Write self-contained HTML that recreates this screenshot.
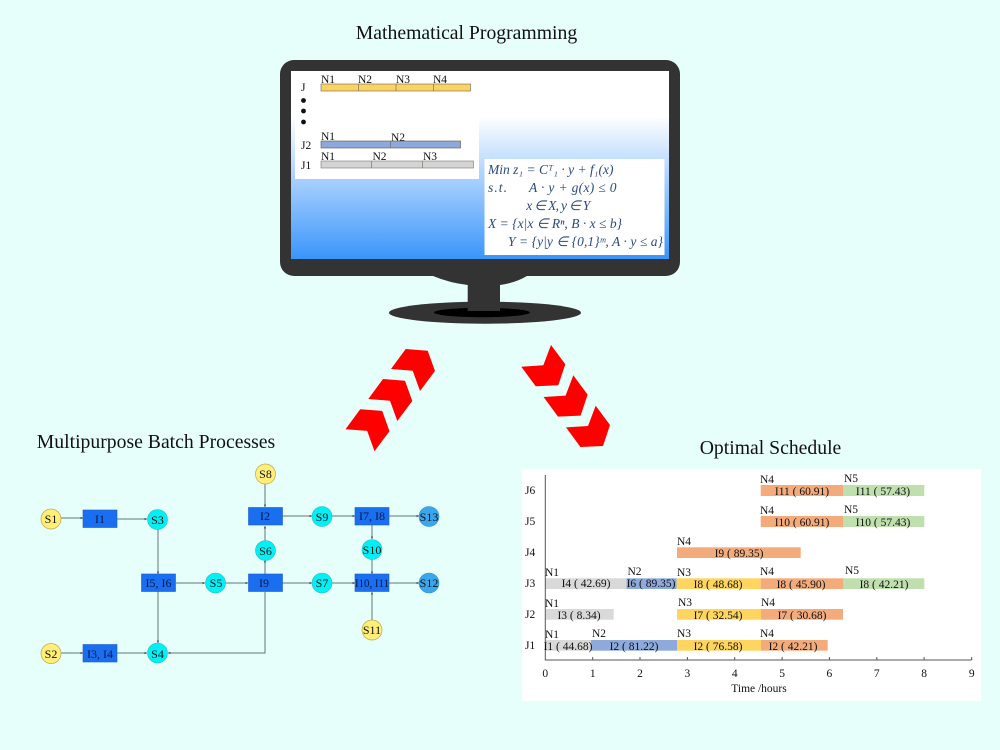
<!DOCTYPE html>
<html><head><meta charset="utf-8"><style>
html,body{margin:0;padding:0;background:#e6fffa}
svg{display:block}
text{font-family:"Liberation Serif",serif;fill:#111}
.a{text-anchor:middle}
.m{font-style:italic;font-size:13.5px;fill:#2a4a80}
.n{font-size:12px;text-anchor:middle;fill:#0a1a4a}
.s{font-size:12px;text-anchor:middle;fill:#111}
.l{stroke:#66767c;stroke-width:1;fill:none}
.r{fill:#1a6ef0;stroke:#1a5ac8;stroke-width:.6}
.y{fill:#ffee77;stroke:#b9a84a;stroke-width:.7}
.c{fill:#00f0f5;stroke:#30b8c0;stroke-width:.6}
.d{fill:#3aa6ee;stroke:#3090d0;stroke-width:.6}
</style></head><body>
<svg width="1000" height="750" viewBox="0 0 1000 750" xmlns="http://www.w3.org/2000/svg">
<defs>
<linearGradient id="g" x1="0" y1="0" x2="0" y2="1"><stop offset="0" stop-color="#fff"/><stop offset=".24" stop-color="#fff"/><stop offset="1" stop-color="#3a95fb"/></linearGradient>
<polygon id="cl" points="405.7,349 427.7,350.7 435,371 420,391 412.7,370.7 391,369" fill="#fe0000"/>
<polygon id="cr" points="551,345 565.3,364.3 558.3,385.3 535.7,386.3 521.3,366.7 543.3,365.3" fill="#fe0000"/>
<marker id="ar" markerWidth="3" markerHeight="3" refX="2.4" refY="1.2" orient="auto"><path d="M0,0L2.400,1.200L0,2.400z" fill="#445"/></marker>
</defs>
<rect width="1000" height="750" fill="#e6fffa"/>
<text x="466.500" y="39" class="a" font-size="19.7">Mathematical Programming</text>
<text x="156" y="448" class="a" font-size="19.7">Multipurpose Batch Processes</text>
<text x="770.500" y="454" class="a" font-size="19.7">Optimal Schedule</text>

<!-- monitor -->
<ellipse cx="485" cy="312.700" rx="96" ry="11" fill="#333"/>
<ellipse cx="482" cy="312.500" rx="48" ry="4.700" fill="#000"/>
<path d="M433,276 Q450,283 467.700,285 L467.700,311 L500,311 L500,285 Q515,283 527,276z" fill="#333"/>
<rect x="280" y="60" width="400" height="216" rx="14" fill="#333"/>
<rect x="291" y="71" width="378" height="188" fill="url(#g)"/>
<rect x="295" y="72" width="184" height="107" fill="#fff"/>
<rect x="484.500" y="159" width="180" height="96" fill="#fff"/>
<text x="301" y="91" font-size="11.500">J</text>
<circle cx="303.500" cy="100.500" r="2.400" fill="#111"/><circle cx="303.500" cy="111" r="2.400" fill="#111"/><circle cx="303.500" cy="122" r="2.400" fill="#111"/>
<text x="301" y="149" font-size="11.500">J2</text>
<text x="301" y="169" font-size="11.500">J1</text>
<g font-size="11.500">
<text x="321" y="83">N1</text><text x="358" y="83">N2</text><text x="396" y="83">N3</text><text x="433" y="83">N4</text>
<text x="321" y="140">N1</text><text x="391" y="141">N2</text>
<text x="321" y="160">N1</text><text x="372.500" y="160">N2</text><text x="423" y="160">N3</text>
</g>
<g stroke="#6a6a50" stroke-width=".6">
<rect x="321" y="84" width="149.500" height="7" fill="#fdd264"/><path d="M358.500,84v7M396,84v7M433.500,84v7"/>
<rect x="321" y="141" width="139.500" height="7" fill="#8da9dc" stroke="#555"/><path d="M390.500,141v7"/>
<rect x="321" y="161" width="152.500" height="7" fill="#d4d4d4" stroke="#777"/><path d="M371.500,161v7M422.500,161v7"/>
</g>
<text class="m" x="488" y="174" textLength="125.500">Min z₁ = Cᵀ₁ · y + f₁(x)</text>
<text class="m" x="488" y="192" textLength="19">s.t.</text>
<text class="m" x="529" y="192" textLength="87.500">A · y + g(x) ≤ 0</text>
<text class="m" x="526.300" y="210" textLength="64">x ∈ X, y ∈ Y</text>
<text class="m" x="488" y="228" textLength="134">X = {x|x ∈ Rⁿ, B · x ≤ b}</text>
<text class="m" x="508" y="246" textLength="155">Y = {y|y ∈ {0,1}ᵐ, A · y ≤ a}</text>

<!-- chevrons -->
<use href="#cl"/><use href="#cl" x="-22.700" y="30"/><use href="#cl" x="-45.500" y="60.200"/>
<use href="#cr"/><use href="#cr" x="22.300" y="30.300"/><use href="#cr" x="44.700" y="60.700"/>

<!-- network -->
<g class="l">
<path d="M61,518H83" marker-end="url(#ar)"/>
<path d="M117,519H147" marker-end="url(#ar)"/>
<path d="M158,529V574" marker-end="url(#ar)"/>
<path d="M158,591V643" marker-end="url(#ar)"/>
<path d="M61,653H83" marker-end="url(#ar)"/>
<path d="M117,653H147" marker-end="url(#ar)"/>
<path d="M176,583H205" marker-end="url(#ar)"/>
<path d="M225,583H248" marker-end="url(#ar)"/>
<path d="M265,592V653H168" marker-end="url(#ar)"/>
<path d="M265,574V560" marker-end="url(#ar)"/>
<path d="M265,541V526" marker-end="url(#ar)"/>
<path d="M265,484V507" marker-end="url(#ar)"/>
<path d="M282,516H312" marker-end="url(#ar)"/>
<path d="M332,516H355" marker-end="url(#ar)"/>
<path d="M389,516H419" marker-end="url(#ar)"/>
<path d="M372,525V539" marker-end="url(#ar)"/>
<path d="M372,559V574" marker-end="url(#ar)"/>
<path d="M282,583H312" marker-end="url(#ar)"/>
<path d="M332,583H355" marker-end="url(#ar)"/>
<path d="M389,583H419" marker-end="url(#ar)"/>
<path d="M372,620V592" marker-end="url(#ar)"/>
</g>
<g>
<rect class="r" x="83" y="510" width="34" height="17.500"/>
<rect class="r" x="141.500" y="574" width="34" height="17.500"/>
<rect class="r" x="83" y="644.500" width="34" height="17.500"/>
<rect class="r" x="248.500" y="507.500" width="34" height="17.500"/>
<rect class="r" x="248.500" y="574" width="34" height="17.500"/>
<rect class="r" x="355" y="507.500" width="34" height="17.500"/>
<rect class="r" x="355" y="574" width="34" height="17.500"/>
<circle class="y" cx="51" cy="519" r="10"/><circle class="y" cx="51" cy="653.500" r="10"/>
<circle class="y" cx="265.500" cy="474" r="10"/><circle class="y" cx="372" cy="630" r="10"/>
<circle class="c" cx="157.500" cy="519.500" r="10"/><circle class="c" cx="157.500" cy="653" r="10"/>
<circle class="c" cx="215.500" cy="583" r="10"/><circle class="c" cx="265.500" cy="550.500" r="10"/>
<circle class="c" cx="322" cy="583" r="10"/><circle class="c" cx="322" cy="516.500" r="10"/>
<circle class="c" cx="372" cy="549.500" r="10"/>
<circle class="d" cx="429" cy="583" r="10"/><circle class="d" cx="429" cy="516.500" r="10"/>
</g>
<g>
<text class="n" x="100" y="523">I1</text><text class="n" x="158.500" y="587">I5, I6</text><text class="n" x="100" y="658">I3, I4</text>
<text class="n" x="265" y="520">I2</text><text class="n" x="264" y="587">I9</text>
<text class="n" x="372" y="520">I7, I8</text><text class="n" x="372" y="587" textLength="34" lengthAdjust="spacingAndGlyphs">I10, I11</text>
<text class="s" x="51" y="523">S1</text><text class="s" x="51" y="658">S2</text><text class="s" x="157.500" y="524">S3</text><text class="s" x="157.500" y="658">S4</text>
<text class="s" x="216" y="587">S5</text><text class="s" x="265.500" y="555">S6</text><text class="s" x="322" y="587">S7</text><text class="s" x="265.500" y="478">S8</text>
<text class="s" x="322" y="521">S9</text><text class="s" x="372" y="554">S10</text><text class="s" x="372" y="634">S11</text><text class="s" x="429" y="587">S12</text><text class="s" x="429" y="521">S13</text>
</g>

<!-- gantt -->
<rect x="522" y="469" width="459" height="232" fill="#fff"/>
<g>
<rect x="760.700" y="485" width="82.300" height="11" fill="#f4ab7c"/><rect x="843" y="485" width="81.300" height="11" fill="#c0dfae"/>
<rect x="760.700" y="516" width="82.300" height="11" fill="#f4ab7c"/><rect x="843" y="516" width="81.300" height="11" fill="#c0dfae"/>
<rect x="677" y="547.300" width="123.700" height="10.700" fill="#f4ab7c"/>
<rect x="545.500" y="578.300" width="81" height="10.700" fill="#d9d9d9"/><rect x="626.500" y="578.300" width="50.200" height="10.700" fill="#8eaadc"/><rect x="676.700" y="578.300" width="84" height="10.700" fill="#ffd55f"/><rect x="760.700" y="578.300" width="82.300" height="10.700" fill="#f4ab7c"/><rect x="843" y="578.300" width="81.300" height="10.700" fill="#c0dfae"/>
<rect x="546" y="609" width="67.700" height="10.700" fill="#d9d9d9"/><rect x="677" y="609" width="84" height="10.700" fill="#ffd55f"/><rect x="761" y="609" width="82" height="10.700" fill="#f4ab7c"/>
<rect x="545.500" y="640" width="45.500" height="10.700" fill="#d9d9d9"/><rect x="591" y="640" width="86" height="10.700" fill="#8eaadc"/><rect x="677" y="640" width="84" height="10.700" fill="#ffd55f"/><rect x="761" y="640" width="66.700" height="10.700" fill="#f4ab7c"/>
</g>
<path d="M545.300,475V660H971.700M545.300,660v-3M592.700,660v-3M640,660v-3M687.400,660v-3M734.700,660v-3M782.100,660v-3M829.400,660v-3M876.800,660v-3M924.100,660v-3M971.700,660v-3" stroke="#555" stroke-width="1" fill="none"/>
<g font-size="11.500">
<text x="525" y="494">J6</text><text x="525" y="525">J5</text><text x="525" y="556">J4</text><text x="525" y="587">J3</text><text x="525" y="618">J2</text><text x="525" y="649">J1</text>
<g class="a">
<text x="545.300" y="677">0</text><text x="592.700" y="677">1</text><text x="640" y="677">2</text><text x="687.400" y="677">3</text><text x="734.700" y="677">4</text><text x="782.100" y="677">5</text><text x="829.400" y="677">6</text><text x="876.800" y="677">7</text><text x="924.100" y="677">8</text><text x="971.700" y="677">9</text>
<text x="759" y="692">Time /hours</text>
</g>
<text x="760" y="483">N4</text><text x="844" y="482">N5</text>
<text x="760" y="514">N4</text><text x="844" y="513">N5</text>
<text x="677" y="545">N4</text>
<text x="545" y="576">N1</text><text x="627.500" y="575">N2</text><text x="677" y="576">N3</text><text x="760" y="575">N4</text><text x="845" y="574">N5</text>
<text x="545" y="607">N1</text><text x="678" y="606">N3</text><text x="761" y="606">N4</text>
<text x="545" y="638">N1</text><text x="592" y="637">N2</text><text x="677" y="637">N3</text><text x="760" y="637">N4</text>
<g class="a">
<text x="802" y="495">I11 ( 60.91)</text><text x="883" y="495">I11 ( 57.43)</text>
<text x="802" y="526">I10 ( 60.91)</text><text x="883" y="526">I10 ( 57.43)</text>
<text x="739" y="557">I9 ( 89.35)</text>
<text x="586" y="587">I4 ( 42.69)</text><text x="651" y="587">I6 ( 89.35)</text><text x="718" y="588">I8 ( 48.68)</text><text x="801" y="588">I8 ( 45.90)</text><text x="884" y="588">I8 ( 42.21)</text>
<text x="579" y="619">I3 (  8.34)</text><text x="718" y="619">I7 ( 32.54)</text><text x="802" y="619">I7 ( 30.68)</text>
<text x="568" y="650">I1 ( 44.68)</text><text x="634" y="650">I2 ( 81.22)</text><text x="718" y="650">I2 ( 76.58)</text><text x="793" y="650">I2 ( 42.21)</text>
</g>
</g>
</svg>
</body></html>
